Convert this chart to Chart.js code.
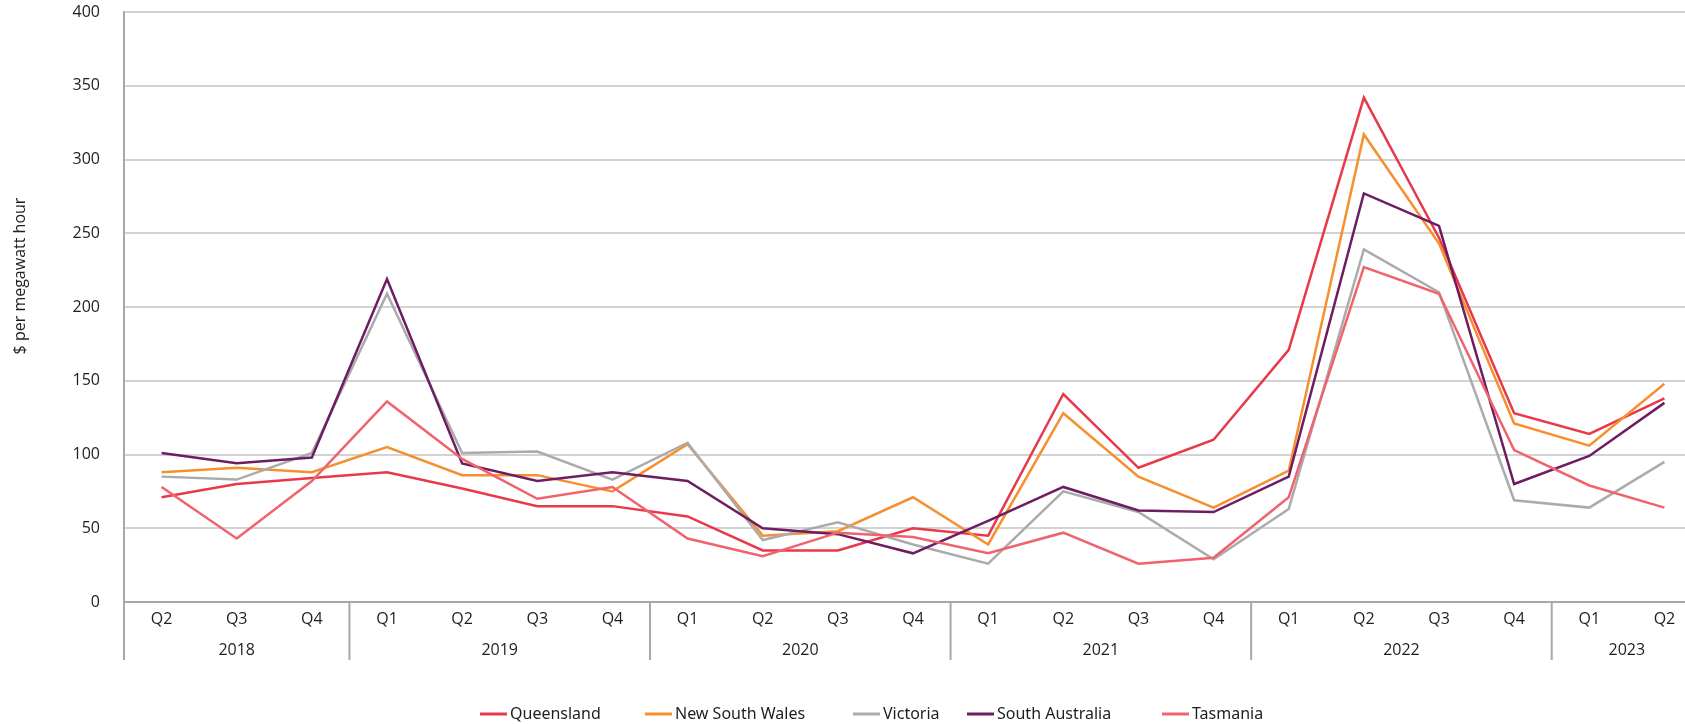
<!DOCTYPE html>
<html>
<head>
<meta charset="utf-8">
<title>Wholesale electricity prices by region</title>
<script src="https://cdn.jsdelivr.net/npm/chart.js@4/dist/chart.umd.min.js"></script>
<style>
  html, body { margin: 0; padding: 0; background: #ffffff; overflow: hidden; }
  #wrap { position: absolute; left: 0; top: 0; width: 1702px; height: 724px; }
</style>
</head>
<body>
<div id="wrap"><canvas id="chart" width="1702" height="724"></canvas></div>
<script>
// Quarterly categories and the year each quarter belongs to
const quarters = ['Q2','Q3','Q4','Q1','Q2','Q3','Q4','Q1','Q2','Q3','Q4','Q1','Q2','Q3','Q4','Q1','Q2','Q3','Q4','Q1','Q2'];
const years    = ['2018','2018','2018','2019','2019','2019','2019','2020','2020','2020','2020','2021','2021','2021','2021','2022','2022','2022','2022','2023','2023'];

// Average spot price, $ per megawatt hour
const queensland      = [71, 80, 84, 88, 77, 65, 65, 58, 35, 35, 50, 45, 141, 91, 110, 171, 342, 247, 128, 114, 138];
const newSouthWales   = [88, 91, 88, 105, 86, 86, 75, 107, 45, 48, 71, 39, 128, 85, 64, 89, 317, 243, 121, 106, 148];
const victoria        = [85, 83, 101, 209, 101, 102, 83, 108, 42, 54, 39, 26, 75, 61, 29, 63, 239, 210, 69, 64, 95];
const southAustralia  = [101, 94, 98, 219, 94, 82, 88, 82, 50, 46, 33, 55, 78, 62, 61, 85, 277, 255, 80, 99, 135];
const tasmania        = [78, 43, 82, 136, 97, 70, 78, 43, 31, 47, 44, 33, 47, 26, 30, 71, 227, 209, 103, 79, 64];

const seriesNames = ['Queensland', 'New South Wales', 'Victoria', 'South Australia', 'Tasmania'];
const yTicks = [0, 50, 100, 150, 200, 250, 300, 350, 400];

const colours = ['#E8394B', '#F6902F', '#ABABAB', '#6E1D61', '#F0636E'];
const seriesData = [queensland, newSouthWales, victoria, southAustralia, tasmania];

const TICK_FONT = { family: '"Open Sans", "Noto Sans", sans-serif', size: 16 };
const AXIS_GREY = '#A8A8A8';
const TEXT = '#1E1E1E';

// Year groups under the quarter labels, dividers between years,
// the vertical axis title and the legend row.
const furniture = {
  id: 'furniture',
  afterDraw(chart, args, opts) {
    const { ctx, chartArea } = chart;
    const x = chart.scales.x;
    const bottom = chartArea.bottom;
    ctx.save();

    // dividers at year boundaries and the extended value axis
    ctx.strokeStyle = AXIS_GREY;
    ctx.lineWidth = 2;
    const half = (x.getPixelForValue(1) - x.getPixelForValue(0)) / 2;
    const edges = [chartArea.left];
    for (let i = 1; i < years.length; i++) {
      if (years[i] !== years[i - 1]) edges.push(x.getPixelForValue(i) - half);
    }
    edges.forEach(px => {
      ctx.beginPath();
      ctx.moveTo(px, bottom);
      ctx.lineTo(px, bottom + opts.dividerLength);
      ctx.stroke();
    });

    // year labels centred under their quarters
    ctx.fillStyle = TEXT;
    ctx.font = `${TICK_FONT.size}px ${TICK_FONT.family}`;
    ctx.textAlign = 'center';
    ctx.textBaseline = 'middle';
    let start = 0;
    for (let i = 1; i <= years.length; i++) {
      if (i === years.length || years[i] !== years[start]) {
        const cx = (x.getPixelForValue(start) + x.getPixelForValue(i - 1)) / 2;
        ctx.fillText(years[start], cx, bottom + opts.yearOffset);
        start = i;
      }
    }

    // value axis title
    ctx.save();
    ctx.translate(opts.titleX, opts.titleY);
    ctx.rotate(-Math.PI / 2);
    ctx.font = `16px ${TICK_FONT.family}`;
    ctx.fillText('$ per megawatt hour', 0, 0);
    ctx.restore();

    // legend
    ctx.font = `16px "Noto Sans", "Open Sans", sans-serif`;
    ctx.textAlign = 'left';
    chart.data.datasets.forEach((ds, i) => {
      const lx = opts.legendX[i];
      ctx.strokeStyle = ds.borderColor;
      ctx.lineWidth = 3;
      ctx.beginPath();
      ctx.moveTo(lx, opts.legendY);
      ctx.lineTo(lx + 27, opts.legendY);
      ctx.stroke();
      ctx.fillStyle = TEXT;
      ctx.fillText(ds.label, lx + 30, opts.legendY);
    });

    ctx.restore();
  }
};

const datasets = seriesNames.map((name, i) => ({
  label: name,
  data: seriesData[i],
  borderColor: colours[i],
  backgroundColor: colours[i],
  borderWidth: 2.5,
  pointRadius: 0,
  tension: 0,
  order: seriesNames.length - i
}));

new Chart(document.getElementById('chart'), {
  type: 'line',
  data: { labels: quarters, datasets },
  plugins: [furniture],
  options: {
    responsive: false,
    animation: false,
    devicePixelRatio: 1,
    layout: { padding: { top: 12, left: 0, right: 0, bottom: 0 } },
    plugins: {
      legend: { display: false },
      tooltip: { enabled: false },
      furniture: {
        dividerLength: 58,
        yearOffset: 48,
        titleX: 20,
        titleY: 276,
        legendX: [480, 645, 853, 967, 1162],
        legendY: 714
      }
    },
    scales: {
      x: {
        type: 'category',
        offset: true,
        grid: { display: false, drawTicks: false },
        border: { display: true, color: AXIS_GREY, width: 2 },
        ticks: { font: TICK_FONT, color: TEXT, padding: 8, maxRotation: 0, autoSkip: false },
        afterFit(scale) { scale.height = 122; }
      },
      y: {
        min: 0,
        max: 400,
        afterBuildTicks(scale) { scale.ticks = yTicks.map(v => ({ value: v })); },
        grid: {
          drawTicks: false,
          lineWidth: 2,
          color: ctx => (ctx.tick && ctx.tick.value === 0) ? 'rgba(0,0,0,0)' : '#D3D3D3'
        },
        border: { display: true, color: AXIS_GREY, width: 2 },
        ticks: { font: TICK_FONT, color: TEXT, padding: 24 },
        afterFit(scale) {
          scale.width = 124;
          // the label gap is horizontal only; keep the plot flush with the layout padding
          scale.paddingTop = 0;
          scale.paddingBottom = 0;
        }
      }
    }
  }
});
</script>
</body>
</html>
